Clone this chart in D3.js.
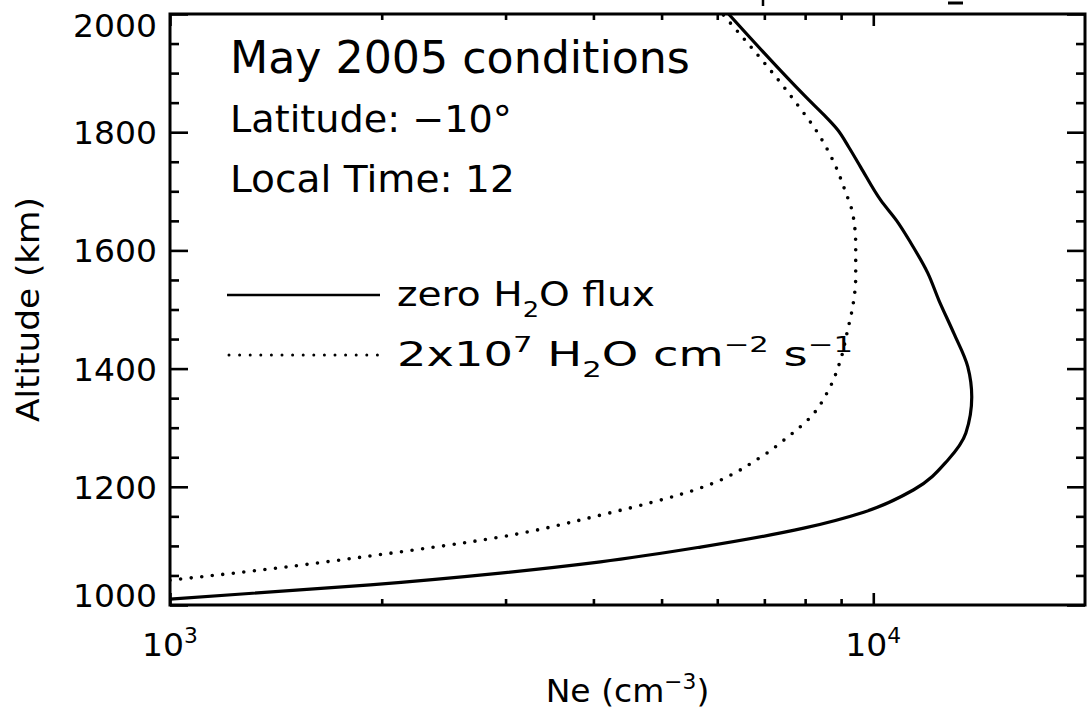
<!DOCTYPE html>
<html><head><meta charset="utf-8">
<script src="https://cdn.jsdelivr.net/npm/d3@7"></script>
<style>
html,body{margin:0;padding:0;background:#fff;}
svg{display:block;}
text{font-family:"DejaVu Sans",sans-serif;fill:#000;}
</style>
</head><body>
<svg id="chart" width="1092" height="713"></svg>
<script>
// ---- data ----
const solidAlt = [1010, 1034, 1054, 1073, 1098, 1130, 1157, 1195, 1245, 1291, 1352, 1403, 1460, 1516, 1562, 1613, 1650, 1685, 1741, 1775, 1804, 1830, 1855, 2000];
const solidNe  = [1000, 1926, 2949, 4093, 5680, 7962, 9690, 11416, 12760, 13540, 13804, 13627, 13015, 12392, 11950, 11303, 10800, 10245, 9594, 9226, 8897, 8494, 8090, 6226];
const dotAlt   = [1042, 1061, 1083, 1115, 1152, 1198, 1250, 1284, 1318, 1364, 1415, 1465, 1504, 1555, 1609, 1663, 1699, 1750, 1799, 1855, 2000];
const dotNe    = [1000, 1388, 1926, 2949, 4093, 5680, 6915, 7553, 8145, 8640, 8985, 9194, 9346, 9441, 9441, 9346, 9131, 8781, 8334, 7705, 6104];

const yMajorTicks = [1000, 1200, 1400, 1600, 1800, 2000];
const yMinorTicks = [1050, 1100, 1150, 1250, 1300, 1350, 1450, 1500, 1550, 1650, 1700, 1750, 1850, 1900, 1950];
const xMajorTicks = [1000, 10000];
const xMinorTicks = [2000, 3000, 4000, 5000, 6000, 7000, 8000, 9000];
const xTickBase = "10";
const xTickExponents = ["3", "4"];
const xDomain = [1000, 20000];
const yDomain = [1000, 2000];

const infoLines = ["May 2005 conditions", "Latitude: \u221210\u00B0", "Local Time: 12"];
const legendSolid = [{t:"zero H"},{t:"2",sub:true},{t:"O flux"}];
const legendDotted = [{t:"2x10"},{t:"7",sup:true},{t:" H"},{t:"2",sub:true},{t:"O cm"},{t:"\u22122",sup:true},{t:" s"},{t:"\u22121",sup:true}];
const xTitle = [{t:"Ne (cm"},{t:"\u22123",sup:true},{t:")"}];
const yTitle = [{t:"Altitude (km)"}];

// ---- layout ----
const L = 170, R = 1085, T = 14, B = 605;
const svg = d3.select("#chart");
const x = d3.scaleLog().domain(xDomain).range([L, R]);
const y = d3.scaleLinear().domain(yDomain).range([B, T]);

function richText(parent, segs, fs) {
  const t = parent.append("text").attr("x", 0).attr("y", 0).style("font-size", fs + "px");
  let shift = 0;
  segs.forEach(s => {
    const target = s.sub ? fs * 0.32 : s.sup ? -fs * 0.42 : 0;
    const ts = t.append("tspan").text(s.t).attr("dy", target - shift);
    if (s.sub || s.sup) ts.style("font-size", (fs * 0.66) + "px");
    shift = target;
  });
  return t;
}
function place(t, px, py, opts) {
  const w = t.node().getBBox().width;
  const sx = opts.width ? opts.width / w : (opts.sx || 1);
  const ww = w * sx;
  const x0 = opts.anchor === "middle" ? -ww / 2 : opts.anchor === "end" ? -ww : 0;
  const rot = opts.rotate ? ` rotate(${opts.rotate})` : "";
  t.attr("transform", `translate(${px},${py})${rot} translate(${x0},0) scale(${sx},1)`);
  return sx;
}

// ---- curves ----
svg.append("defs").append("clipPath").attr("id", "clip")
  .append("rect").attr("x", L).attr("y", T).attr("width", R - L).attr("height", B - T);
const line = d3.line().x(d => x(d[0])).y(d => y(d[1])).curve(d3.curveMonotoneY);
const plot = svg.append("g").attr("clip-path", "url(#clip)");
plot.append("path").datum(solidNe.map((v, i) => [v, solidAlt[i]]))
  .attr("d", line).attr("fill", "none").attr("stroke", "#000").attr("stroke-width", 3.2);
plot.append("path").datum(dotNe.map((v, i) => [v, dotAlt[i]]))
  .attr("d", line).attr("fill", "none").attr("stroke", "#000").attr("stroke-width", 3.6)
  .attr("stroke-linecap", "round").attr("stroke-dasharray", "0 10.6");

// ---- axes (ticks inward) ----
function styleAxis(g) {
  g.select(".domain").remove();
  g.selectAll(".tick line").attr("stroke", "#000").attr("stroke-width", 2.6);
  g.selectAll(".tick text").remove();
}
svg.append("g").attr("transform", `translate(${L},0)`).call(d3.axisLeft(y).tickValues(yMajorTicks).tickSizeInner(-18).tickSizeOuter(0)).call(styleAxis);
svg.append("g").attr("transform", `translate(${L},0)`).call(d3.axisLeft(y).tickValues(yMinorTicks).tickSizeInner(-9).tickSizeOuter(0)).call(styleAxis);
svg.append("g").attr("transform", `translate(${R},0)`).call(d3.axisRight(y).tickValues(yMajorTicks).tickSizeInner(-18).tickSizeOuter(0)).call(styleAxis);
svg.append("g").attr("transform", `translate(${R},0)`).call(d3.axisRight(y).tickValues(yMinorTicks).tickSizeInner(-9).tickSizeOuter(0)).call(styleAxis);
svg.append("g").attr("transform", `translate(0,${B})`).call(d3.axisBottom(x).tickValues(xMajorTicks).tickSizeInner(-12).tickSizeOuter(0)).call(styleAxis);
svg.append("g").attr("transform", `translate(0,${B})`).call(d3.axisBottom(x).tickValues(xMinorTicks).tickSizeInner(-6).tickSizeOuter(0)).call(styleAxis);
svg.append("g").attr("transform", `translate(0,${T})`).call(d3.axisTop(x).tickValues(xMajorTicks).tickSizeInner(-12).tickSizeOuter(0)).call(styleAxis);
svg.append("g").attr("transform", `translate(0,${T})`).call(d3.axisTop(x).tickValues(xMinorTicks).tickSizeInner(-6).tickSizeOuter(0)).call(styleAxis);
svg.append("rect").attr("x", L).attr("y", T).attr("width", R - L).attr("height", B - T)
  .attr("fill", "none").attr("stroke", "#000").attr("stroke-width", 3);

// ---- tick labels (end labels kept inside the frame's height, as in the reference) ----
const FS = 32;
let labelSx = 1;
yMajorTicks.slice().reverse().forEach((v, i) => {
  const t = richText(svg, [{t: String(v)}], FS);
  let by = y(v) + 12;
  by = Math.min(Math.max(by, T + 23), B + 2);
  if (i === 0) labelSx = place(t, 157, by, {anchor: "end", width: 84});
  else place(t, 157, by, {anchor: "end", sx: labelSx});
});
xMajorTicks.forEach((v, i) => {
  const t = richText(svg, [{t: xTickBase}, {t: xTickExponents[i], sup: true}], FS);
  place(t, x(v), 656, {anchor: "middle", sx: labelSx});
});

// ---- axis titles ----
place(richText(svg, xTitle, FS), (L + R) / 2, 702, {anchor: "middle", sx: labelSx});
place(richText(svg, yTitle, FS), 39, (T + B) / 2, {anchor: "middle", width: 225, rotate: -90});

// ---- annotation text ----
place(richText(svg, [{t: infoLines[0]}], 44), 230, 73, {width: 460});
place(richText(svg, [{t: infoLines[1]}], 37), 230, 132, {width: 282});
place(richText(svg, [{t: infoLines[2]}], 37), 230, 192, {width: 285});

// ---- legend ----
svg.append("line").attr("x1", 227).attr("x2", 380).attr("y1", 295).attr("y2", 295)
  .attr("stroke", "#000").attr("stroke-width", 2.6);
svg.append("line").attr("x1", 229).attr("x2", 380).attr("y1", 355).attr("y2", 355)
  .attr("stroke", "#000").attr("stroke-width", 3).attr("stroke-linecap", "round").attr("stroke-dasharray", "0 10.6");
place(richText(svg, legendSolid, 33), 397, 306, {width: 258});
place(richText(svg, legendDotted, 33), 397, 366, {width: 456});

// ---- clipped fragments of a title above the frame ----
svg.append("line").attr("x1", 763).attr("x2", 763).attr("y1", 0).attr("y2", 6).attr("stroke", "#000").attr("stroke-width", 2.5);
svg.append("line").attr("x1", 948).attr("x2", 963).attr("y1", 3).attr("y2", 3).attr("stroke", "#000").attr("stroke-width", 3);
</script>
</body></html>
